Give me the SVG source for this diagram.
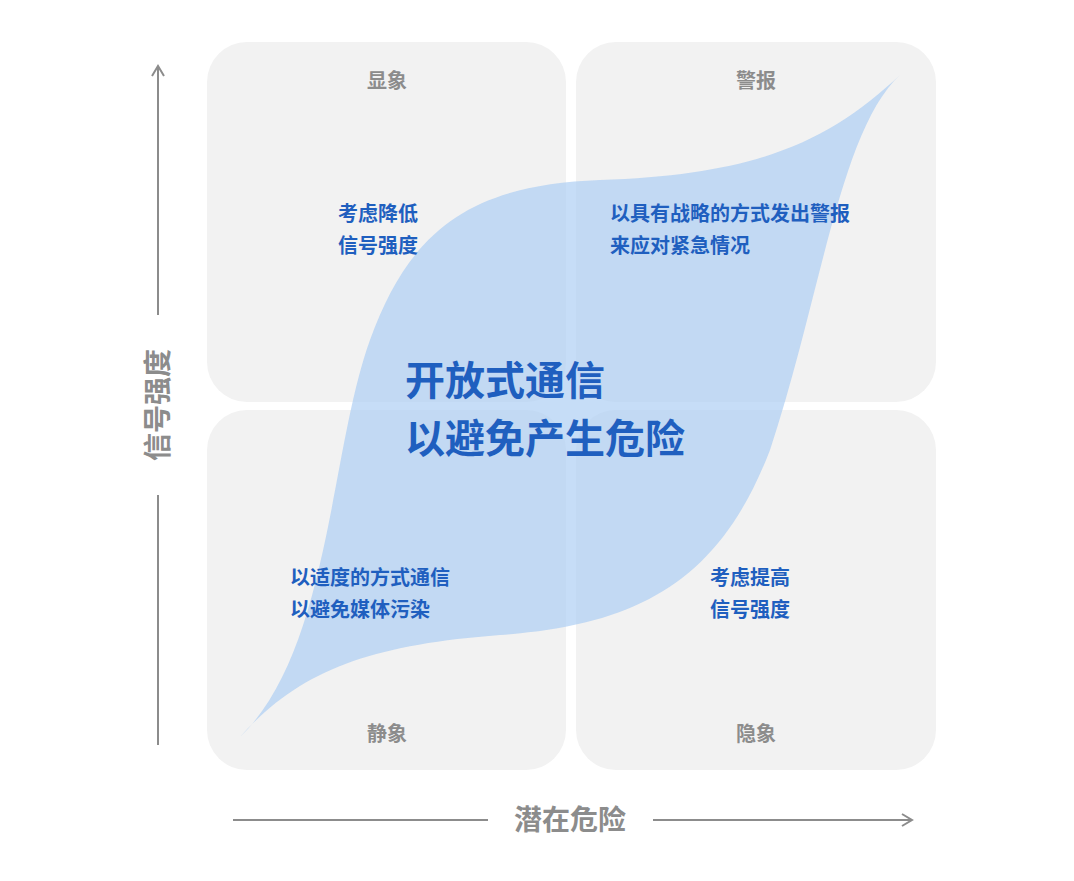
<svg xmlns="http://www.w3.org/2000/svg" width="1074" height="881" viewBox="0 0 1074 881">
<style>
.q{fill:#f2f2f2}
.t{font-family:"Noto Sans CJK SC","Noto Sans",sans-serif}
.lab{font-size:20px;fill:#8c8c8c;font-weight:bold;text-anchor:middle}
.body{font-size:20px;fill:#1f5fbf;font-weight:bold}
.big{font-size:40px;fill:#1f5fbf;font-weight:bold}
.ax{font-size:28px;fill:#8c8c8c;font-weight:bold}
.line{stroke:#8c8c8c;stroke-width:2;fill:none}
</style>
<defs><marker id="ar" markerWidth="14" markerHeight="14" refX="11" refY="7" orient="auto" markerUnits="userSpaceOnUse"><path d="M1,1 L11,7 L1,13" fill="none" stroke="#8c8c8c" stroke-width="2"/></marker></defs>
<rect width="1074" height="881" fill="#fff"/>
<g id="q-tl"><rect class="q" x="207" y="42" width="359" height="360" rx="40"/><text class="t lab" x="387" y="88">显象</text></g>
<g id="q-tr"><rect class="q" x="576" y="42" width="360" height="360" rx="40"/><text class="t lab" x="756" y="88">警报</text></g>
<g id="q-bl"><rect class="q" x="207" y="410" width="359" height="360" rx="40"/><text class="t lab" x="387" y="741">静象</text></g>
<g id="q-br"><rect class="q" x="576" y="410" width="360" height="360" rx="40"/><text class="t lab" x="756" y="741">隐象</text></g>
<g id="shape"><path d="M240,737 C330,650 330,450 370,340 C410,230 470,185 600,180 C760,175 830,140 900,75 C840,130 820,300 770,450 C720,580 640,625 500,635 C370,645 300,670 240,737 Z" fill="#a8cbf3" opacity="0.65"/></g>
<g id="texts">
<text class="t body" x="338" y="221">考虑降低</text><text class="t body" x="338" y="253">信号强度</text>
<text class="t body" x="610" y="221">以具有战略的方式发出警报</text><text class="t body" x="610" y="253">来应对紧急情况</text>
<text class="t body" x="290" y="585">以适度的方式通信</text><text class="t body" x="290" y="617">以避免媒体污染</text>
<text class="t body" x="710" y="585">考虑提高</text><text class="t body" x="710" y="617">信号强度</text>
<text class="t big" x="405" y="395">开放式通信</text><text class="t big" x="405" y="453">以避免产生危险</text>
</g>
<g id="connectors">
<line class="line" x1="158" y1="745" x2="158" y2="495"/>
<line class="line" x1="158" y1="315" x2="158" y2="66" marker-end="url(#ar)"/>
<line class="line" x1="233" y1="820" x2="488" y2="820"/>
<line class="line" x1="653" y1="820" x2="912" y2="820" marker-end="url(#ar)"/>
</g>
<g id="axes-labels">
<text class="t ax" x="0" y="0" text-anchor="middle" transform="translate(168,405) rotate(-90)">信号强度</text>
<text class="t ax" x="570" y="830" text-anchor="middle">潜在危险</text>
</g>
</svg>
